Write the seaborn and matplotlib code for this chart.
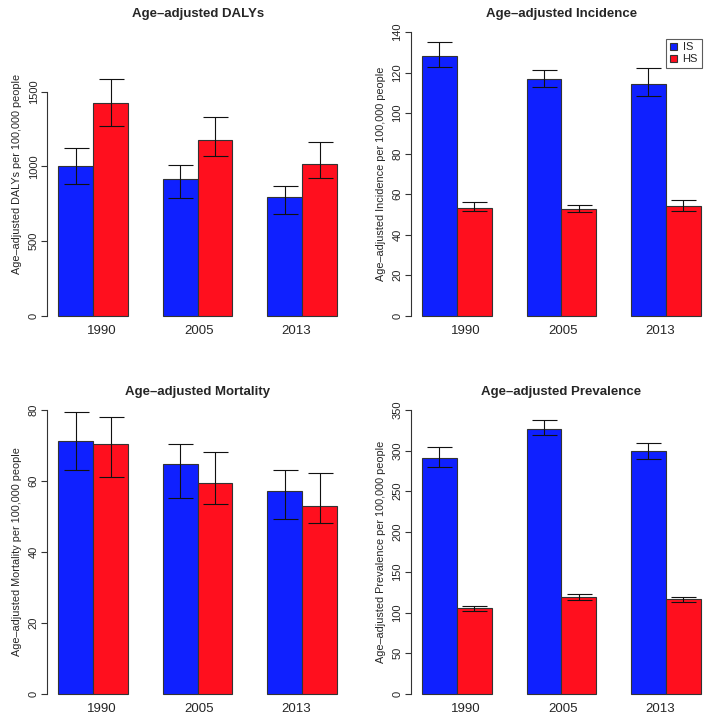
import matplotlib
matplotlib.use("Agg")
import matplotlib.pyplot as plt
import seaborn as sns
import pandas as pd
import numpy as np

sns.set_theme(style="white")
plt.rcParams['font.family'] = ['Liberation Sans', 'DejaVu Sans']

years = ["1990", "2005", "2013"]
types = ["IS", "HS"]

# DALYs
dalys_is = [1004, 917, 793]
dalys_is_lo = [880, 786, 679]
dalys_is_hi = [1123, 1007, 867]
dalys_hs = [1427, 1177, 1014]
dalys_hs_lo = [1268, 1067, 922]
dalys_hs_hi = [1583, 1329, 1161]

# Incidence
inc_is = [128.3, 116.8, 114.4]
inc_is_lo = [122.9, 112.7, 108.3]
inc_is_hi = [135.0, 121.3, 122.4]
inc_hs = [53.3, 52.8, 54.3]
inc_hs_lo = [51.7, 51.2, 51.5]
inc_hs_hi = [56.0, 54.8, 57.3]

# Mortality
mort_is = [71.3, 64.7, 57.2]
mort_is_lo = [63.0, 55.3, 49.3]
mort_is_hi = [79.4, 70.3, 63.0]
mort_hs = [70.3, 59.5, 52.9]
mort_hs_lo = [61.2, 53.5, 48.0]
mort_hs_hi = [77.9, 68.1, 62.3]

# Prevalence
prev_is = [290.8, 327.0, 299.8]
prev_is_lo = [279.3, 318.8, 290.2]
prev_is_hi = [304.0, 338.0, 309.7]
prev_hs = [105.3, 118.9, 116.4]
prev_hs_lo = [102.0, 115.6, 112.8]
prev_hs_hi = [108.6, 122.6, 119.7]

titles = ["Age\u2013adjusted DALYs", "Age\u2013adjusted Incidence",
          "Age\u2013adjusted Mortality", "Age\u2013adjusted Prevalence"]
ylabels = ["Age\u2013adjusted DALYs per 100,000 people",
           "Age\u2013adjusted Incidence per 100,000 people",
           "Age\u2013adjusted Mortality per 100,000 people",
           "Age\u2013adjusted Prevalence per 100,000 people"]
ytops = [1900, 140, 80, 350]
yticks = [[0, 500, 1000, 1500], [0, 20, 40, 60, 80, 100, 120, 140],
          [0, 20, 40, 60, 80], [0, 50, 100, 150, 200, 250, 300, 350]]

panels = [
    (dalys_is, dalys_is_lo, dalys_is_hi, dalys_hs, dalys_hs_lo, dalys_hs_hi),
    (inc_is, inc_is_lo, inc_is_hi, inc_hs, inc_hs_lo, inc_hs_hi),
    (mort_is, mort_is_lo, mort_is_hi, mort_hs, mort_hs_lo, mort_hs_hi),
    (prev_is, prev_is_lo, prev_is_hi, prev_hs, prev_hs_lo, prev_hs_hi),
]

palette = {"IS": "#0F20FF", "HS": "#FF0F1E"}

W, H = 714, 719
fig = plt.figure(figsize=(W / 100, H / 100), dpi=100)

# axes boxes in pixels: (left, top, right, bottom)
boxes = [(47.1, 20.7, 348.2, 327.0), (410.8, 20.7, 711.9, 327.0),
         (47.1, 398.7, 348.2, 705.0), (410.8, 398.7, 711.9, 705.0)]

label_offsets = [0.087, 1.013, 1.94]

for k, (vals, box) in enumerate(zip(panels, boxes)):
    l, t, r, b = box
    ax = fig.add_axes([l / W, 1 - b / H, (r - l) / W, (b - t) / H])
    v_is, lo_is, hi_is, v_hs, lo_hs, hi_hs = vals
    df = pd.DataFrame({
        "year": years * 2,
        "type": ["IS"] * 3 + ["HS"] * 3,
        "value": list(v_is) + list(v_hs),
        "lo": list(lo_is) + list(lo_hs),
        "hi": list(hi_is) + list(hi_hs),
    })
    sns.barplot(data=df, x="year", y="value", hue="type", hue_order=types,
                order=years, palette=palette, width=2 / 3, errorbar=None,
                edgecolor="#333333", linewidth=0.8, saturation=1, ax=ax,
                legend=(k == 1))
    # error bars at bar centers
    bars = [p for p in ax.patches if p.get_height() > 0]
    lookup = {}
    for _, row in df.iterrows():
        lookup[round(row["value"], 4)] = (row["lo"], row["hi"])
    for p in bars:
        x = p.get_x() + p.get_width() / 2
        h = p.get_height()
        lo, hi = lookup[round(h, 4)]
        ax.errorbar([x], [h], yerr=[[h - lo], [hi - h]], fmt="none",
                    ecolor="#111111", elinewidth=0.8, capsize=9, capthick=0.8)

    ymax = ytops[k]
    ax.set_ylim(-0.04 * ymax, ymax * 1.04)
    ax.set_xlim(-1 / 3 - 0.32 / 3, -1 / 3 + 8.32 / 3)
    ax.set_xticks(label_offsets)
    ax.set_xticklabels(years, fontsize=9.5)
    ax.tick_params(axis="x", length=0, pad=-1.5)
    ax.set_yticks(yticks[k])
    ax.set_yticklabels([str(v) for v in yticks[k]], fontsize=8,
                       rotation=90, va="center")
    ax.tick_params(axis="y", length=4, width=0.8, color="#333333", pad=2,
                   direction="out", left=True)
    for s in ["top", "right", "bottom"]:
        ax.spines[s].set_visible(False)
    ax.spines["left"].set_bounds(0, yticks[k][-1])
    ax.spines["left"].set_color("#333333")
    ax.spines["left"].set_linewidth(0.8)
    ax.set_xlabel("")
    ax.set_ylabel(ylabels[k], fontsize=7.8, labelpad=5)
    ax.set_title(titles[k], fontsize=9.5, fontweight="bold", pad=3)
    if k == 1:
        leg = ax.legend(loc="upper right", fontsize=8, frameon=True,
                        fancybox=False, edgecolor="#333333", title=None,
                        handlelength=0.6, handleheight=0.6, handletextpad=0.5,
                        borderpad=0.35, labelspacing=0.15,
                        bbox_to_anchor=(0.985, 0.96))
        leg.get_frame().set_linewidth(0.8)

fig.savefig("out.png", dpi=100)
